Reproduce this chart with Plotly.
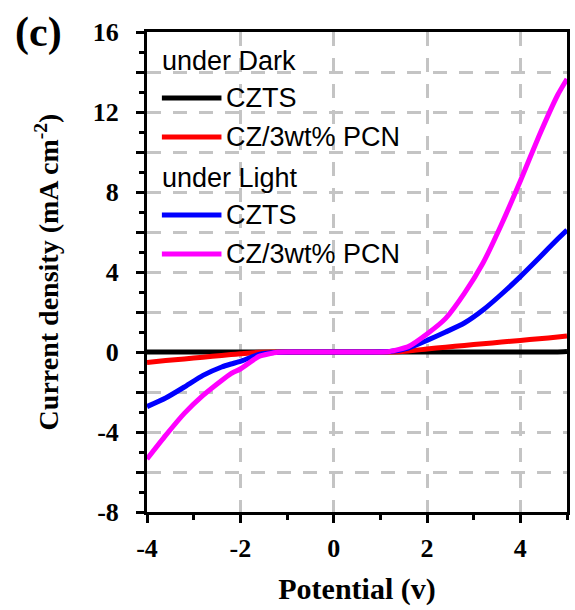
import plotly.graph_objects as go

# ---- data ----
potential = [-4.0, -3.6, -3.2, -2.8, -2.4, -2.2, -2.0, -1.6, -1.2, -0.8, 0.0, 0.8, 1.2,
             1.6, 2.0, 2.4, 2.8, 3.2, 3.6, 4.0, 4.4, 4.8, 5.0]
dark_czts = [0.0] * 22 + [0.02]
dark_pcn = [-0.52, -0.43, -0.35, -0.26, -0.17, -0.13, -0.09, -0.01, 0.0, 0.0, 0.0, 0.0, 0.0,
            0.05, 0.15, 0.24, 0.33, 0.41, 0.5, 0.58, 0.66, 0.75, 0.8]
light_czts = [-2.73, -2.3, -1.75, -1.17, -0.75, -0.6, -0.47, -0.12, -0.01, 0.0, 0.0, 0.0, 0.02,
              0.2, 0.58, 1.0, 1.45, 2.1, 2.9, 3.77, 4.7, 5.65, 6.1]
light_pcn = [-5.35, -4.17, -3.07, -2.17, -1.42, -1.08, -0.85, -0.22, -0.01, 0.0, 0.0, 0.0, 0.03,
             0.27, 0.9, 1.68, 2.93, 4.45, 6.4, 8.55, 10.8, 12.85, 13.65]

series_names = ["CZTS", "CZ/3wt% PCN", "CZTS", "CZ/3wt% PCN"]
series_colors = ["#000000", "#ff0000", "#0000ff", "#ff00ff"]
series_values = [dark_czts, dark_pcn, light_czts, light_pcn]
group_titles = ["under Dark", "under Light"]

x_tickvals = [-4, -2, 0, 2, 4]
x_ticktext = ["-4", "-2", "0", "2", "4"]
y_tickvals = [-8, -6, -4, -2, 0, 2, 4, 6, 8, 10, 12, 14, 16]
y_ticktext = ["-8", "", "-4", "", "0", "", "4", "", "8", "", "12", "", "16"]

W, H = 575, 610
L, R, T, B = 147, 5, 32, 98

fig = go.Figure()
for name, col, vals in zip(series_names, series_colors, series_values):
    fig.add_trace(go.Scatter(x=potential, y=vals, mode="lines", name=name,
                             line=dict(color=col, width=5, shape="spline", smoothing=0.5),
                             showlegend=False))

serif = "Liberation Serif, Times New Roman, serif"
sans = "Liberation Sans, Arial, sans-serif"

fig.update_layout(
    width=W, height=H,
    margin=dict(l=L, r=R, t=T, b=B),
    paper_bgcolor="white", plot_bgcolor="white",
    showlegend=False,
    font=dict(family=serif, color="black"),
)
fig.update_xaxes(
    range=[-4, 5], tickvals=x_tickvals, ticktext=x_ticktext,
    ticks="outside", ticklen=8, tickwidth=2.5, tickcolor="black",
    minor=dict(dtick=1, tick0=-4, ticks="outside", ticklen=5, tickwidth=2.5, tickcolor="black", showgrid=False),
    showline=True, linecolor="black", linewidth=3, mirror=True,
    showgrid=True, gridcolor="#c4c4c4", gridwidth=2.5, griddash="14px,12px",
    zeroline=False, ticklabelstandoff=3,
    tickfont=dict(family=serif, size=26, color="black", weight="bold"),
    title=dict(text="<b>Potential (v)</b>", font=dict(family=serif, size=30, color="black"), standoff=16),
)
fig.update_yaxes(
    range=[-8, 16], tickvals=y_tickvals, ticktext=y_ticktext,
    ticks="outside", ticklen=8, tickwidth=2.5, tickcolor="black",
    minor=dict(dtick=1, tick0=0, ticks="outside", ticklen=5, tickwidth=2.5, tickcolor="black", showgrid=False),
    showline=True, linecolor="black", linewidth=3, mirror=True,
    showgrid=True, gridcolor="#c4c4c4", gridwidth=2.5, griddash="14px,12px",
    zeroline=False, ticklabelstandoff=12,
    tickfont=dict(family=serif, size=26, color="black", weight="bold"),
    title=dict(text="<b>Current density (mA cm<sup>-2</sup>)</b>", font=dict(family=serif, size=28, color="black"), standoff=26),
)

# ---- manual legend ----
def px_x(p):
    return (p - L) / (W - L - R)

def px_y(p):
    return (H - B - p) / (H - T - B)

legend_rows = [("title", group_titles[0], None, 61),
               ("item", series_names[0], series_colors[0], 98),
               ("item", series_names[1], series_colors[1], 137),
               ("title", group_titles[1], None, 178),
               ("item", series_names[2], series_colors[2], 215),
               ("item", series_names[3], series_colors[3], 254)]
for kind, text, col, py in legend_rows:
    if kind == "title":
        fig.add_annotation(x=px_x(160), y=px_y(py), xref="paper", yref="paper", text=text,
                           showarrow=False, xanchor="left", yanchor="middle",
                           font=dict(family=sans, size=27, color="black"))
    else:
        fig.add_shape(type="line", xref="paper", yref="paper",
                      x0=px_x(162), x1=px_x(222), y0=px_y(py), y1=px_y(py),
                      line=dict(color=col, width=5))
        fig.add_annotation(x=px_x(225), y=px_y(py), xref="paper", yref="paper", text=text,
                           showarrow=False, xanchor="left", yanchor="middle",
                           font=dict(family=sans, size=27, color="black"))

fig.add_annotation(x=px_x(12), y=px_y(32), xref="paper", yref="paper", text="<b>(c)</b>",
                   showarrow=False, xanchor="left", yanchor="middle",
                   font=dict(family=serif, size=42, color="black"))

fig.write_html("out.html")
